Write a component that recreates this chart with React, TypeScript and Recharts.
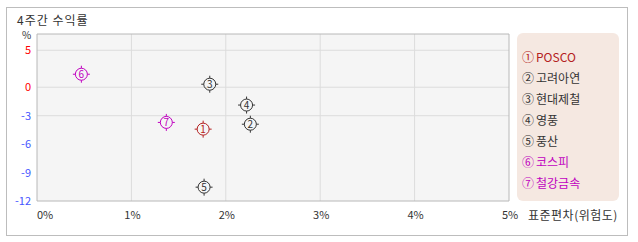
import { CartesianGrid, ReferenceArea, Scatter, ScatterChart, XAxis, YAxis } from 'recharts';

const names = ['POSCO', '고려아연', '현대제철', '영풍', '풍산', '코스피', '철강금속'];
const marks = ['①', '②', '③', '④', '⑤', '⑥', '⑦'];
const risk = [1.76, 2.26, 1.83, 2.22, 1.77, 0.47, 1.37];
const returns = [-4.42, -3.9, 0.41, -1.88, -10.54, 1.76, -3.71];
const colors = ['#b42020', '#333333', '#333333', '#333333', '#333333', '#c000c0', '#c000c0'];

const xTicks = [0, 1, 2, 3, 4, 5];
const yTicks = [-12, -9, -6, -3, 0, 5];
const yGrid = [-3, 0, 5];
const xGrid = [1, 2, 3, 4];
const yDomain = [-12, 7.2];

const FONT = '"Noto Sans CJK KR", "Noto Sans", sans-serif';

// the positive half of the y axis is squeezed compared to the negative half
const POS_RATIO = 0.78;
const warp = (v: number) => (v > 0 ? v * POS_RATIO : v);
const unwarp = (t: number) => (t > 0 ? t / POS_RATIO : t);

function splitScale(dom: number[] = [0, 1], rng: number[] = [0, 1]): any {
  const s: any = (v: number) => {
    const t0 = warp(dom[0]);
    const t1 = warp(dom[dom.length - 1]);
    return rng[0] + ((warp(v) - t0) / (t1 - t0)) * (rng[rng.length - 1] - rng[0]);
  };
  s.domain = (d?: number[]) => {
    if (d === undefined) return dom.slice();
    dom = d.map(Number);
    return s;
  };
  s.range = (r?: number[]) => {
    if (r === undefined) return rng.slice();
    rng = r.map(Number);
    return s;
  };
  s.invert = (px: number) => {
    const t0 = warp(dom[0]);
    const t1 = warp(dom[dom.length - 1]);
    return unwarp(t0 + ((px - rng[0]) / (rng[rng.length - 1] - rng[0])) * (t1 - t0));
  };
  s.ticks = () => yTicks;
  s.tickFormat = () => (v: number) => String(v);
  s.nice = () => s;
  s.clamp = () => s;
  s.copy = () => splitScale(dom, rng);
  return s;
}

const data = names.map((name, i) => ({
  name,
  x: risk[i],
  y: returns[i],
  no: i + 1,
  color: colors[i],
}));

function Marker(props: any) {
  const { cx, cy, payload } = props;
  const c = payload.color;
  return (
    <g>
      <circle cx={cx} cy={cy} r={6} fill="none" stroke={c} strokeWidth={1} />
      <line x1={cx} y1={cy - 8.5} x2={cx} y2={cy - 6} stroke={c} />
      <line x1={cx} y1={cy + 6} x2={cx} y2={cy + 8.5} stroke={c} />
      <line x1={cx - 8.5} y1={cy} x2={cx - 6} y2={cy} stroke={c} />
      <line x1={cx + 6} y1={cy} x2={cx + 8.5} y2={cy} stroke={c} />
      <text x={cx} y={cy} dy="0.36em" textAnchor="middle" fontSize={10} fontFamily={FONT} fill={c}>
        {payload.no}
      </text>
    </g>
  );
}

function XTick(props: any) {
  const { x, y, payload } = props;
  const first = payload.value === 0;
  return (
    <text x={first ? x : x + 1} y={y} dy={10} textAnchor={first ? 'start' : 'middle'} fontSize={11} fontFamily={FONT} fill="#333">
      {payload.value}%
    </text>
  );
}

function YTick(props: any) {
  const { x, y, payload } = props;
  return (
    <text x={x} y={y} dy="0.36em" textAnchor="end" fontSize={11} fontFamily={FONT} fill={payload.value >= 0 ? '#ff0000' : '#4455ff'}>
      {payload.value}
    </text>
  );
}

export default function App() {
  return (
    <div style={{ position: 'absolute', left: 0, top: 0, width: 638, height: 242, background: '#fff', fontFamily: FONT }}>
      <div
        style={{
          position: 'absolute',
          left: 6,
          top: 7,
          width: 622,
          height: 229,
          boxSizing: 'border-box',
          border: '1px solid #bdbdbd',
        }}
      />
      <div style={{ position: 'absolute', left: 17, top: 12, fontSize: 12, lineHeight: '16px', color: '#333', letterSpacing: 1 }}>
        4주간 수익률
      </div>
      <div style={{ position: 'absolute', left: 22, top: 30, fontSize: 10, lineHeight: '10px', color: '#333' }}>%</div>
      <div style={{ position: 'absolute', left: 528, top: 207, fontSize: 12, lineHeight: '16px', color: '#333', letterSpacing: 0.5 }}>
        표준편차(위험도)
      </div>

      <div style={{ position: 'absolute', left: 0, top: 0 }}>
        <ScatterChart width={638} height={242} margin={{ top: 34, right: 129, bottom: 11, left: 7 }}>
          <CartesianGrid
            fill="#f5f5f5"
            stroke="#dcdcdc"
            horizontalValues={yGrid}
            verticalValues={xGrid}
          />
          <XAxis
            type="number"
            dataKey="x"
            domain={[0, 5]}
            ticks={xTicks}
            interval={0}
            height={30}
            axisLine={false}
            tickLine={false}
            tickSize={0}
            tickMargin={8}
            tick={<XTick />}
          />
          <YAxis
            type="number"
            dataKey="y"
            domain={yDomain}
            scale={splitScale()}
            allowDataOverflow
            ticks={yTicks}
            interval={0}
            width={30}
            axisLine={false}
            tickLine={false}
            tickSize={0}
            tickMargin={6}
            tick={<YTick />}
          />
          <ReferenceArea x1={0} x2={5} y1={yDomain[0]} y2={yDomain[1]} fill="none" stroke="#b8b8b8" strokeOpacity={1} fillOpacity={0} />
          <Scatter data={data} shape={Marker} isAnimationActive={false} />
        </ScatterChart>
      </div>

      <div
        style={{
          position: 'absolute',
          left: 517,
          top: 33,
          width: 102,
          height: 168,
          background: '#f5e8e1',
          borderRadius: 6,
          paddingTop: 13,
          boxSizing: 'border-box',
        }}
      >
        {names.map((name, i) => (
          <div
            key={name}
            style={{ height: 21, lineHeight: '21px', paddingLeft: 5, fontSize: 12, color: colors[i], whiteSpace: 'nowrap' }}
          >
            <span style={{ marginRight: 2 }}>{marks[i]}</span>
            {name}
          </div>
        ))}
      </div>
    </div>
  );
}
